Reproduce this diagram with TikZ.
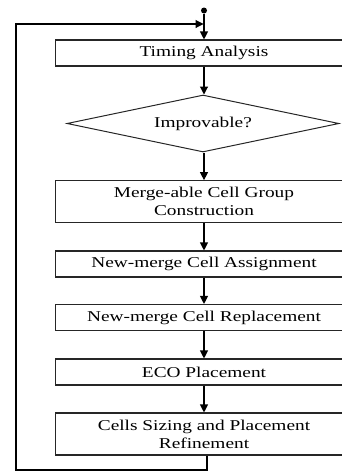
\documentclass[tikz,border=0pt]{standalone}
\usepackage{fontspec}
\usepackage{graphicx}
\setmainfont{Liberation Serif}
\usetikzlibrary{arrows.meta,shapes.geometric}
% horizontally widened label text
\newcommand\widetext[1]{\scalebox{1.29}[1]{#1}}
\tikzset{
  every node/.style={font=\fontsize{15}{18}\selectfont, text=black},
  stepbox/.style={draw=black!85, line width=1.1pt, minimum width=297pt, inner sep=0pt, align=center},
  decision/.style={draw=black!85, line width=1pt, diamond, shape aspect=4.77, minimum width=272pt, minimum height=57pt, inner sep=0pt},
  flow/.style={draw=black, line width=1.1pt, -{Triangle[width=8pt,length=8pt]}},
}
\begin{document}
\begin{tikzpicture}[x=1pt,y=-1pt]
\useasboundingbox (0,0) rectangle (342,471);
\clip (0,0) rectangle (342,471);

% process steps
\node[stepbox, minimum height=26pt] (ta)  at (204,53)    {\widetext{Timing Analysis}};
\node[decision]                      (imp) at (203,123.5) {\widetext{Improvable?}};
\node[stepbox, minimum height=42pt] (mcg) at (204,201.7) {\widetext{Merge-able Cell Group}\\\widetext{Construction}};
\node[stepbox, minimum height=26pt] (nca) at (204,264)   {\widetext{New-merge Cell Assignment}};
\node[stepbox, minimum height=26pt] (ncr) at (204,317.5) {\widetext{New-merge Cell Replacement}};
\node[stepbox, minimum height=26pt] (eco) at (204,372)   {\widetext{ECO Placement}};
\node[stepbox, minimum height=42pt] (csp) at (204,434)   {\widetext{Cells Sizing and Placement}\\\widetext{Refinement}};

% entry point
\node[circle, fill=black, inner sep=0pt, minimum size=6pt] (start) at (204,10.5) {};
\coordinate (join) at (204,24);

% main flow
\draw[flow] (start) -- (ta.north);
\draw[flow] (ta.south) -- (ta.south |- imp.north);
\draw[flow] (imp.south -| mcg.north) -- (mcg.north);
\draw[flow] (mcg.south) -- (nca.north);
\draw[flow] (nca.south) -- (ncr.north);
\draw[flow] (ncr.south) -- (eco.north);
\draw[flow] (eco.south) -- (csp.north);

% feedback loop back to the top
\coordinate (loopstart) at ([xshift=3pt]csp.south);
\coordinate (loopcorner) at (16,470);
\draw[flow] (loopstart) |- (loopcorner) |- ([xshift=-0.5pt]join);
\end{tikzpicture}
\end{document}
